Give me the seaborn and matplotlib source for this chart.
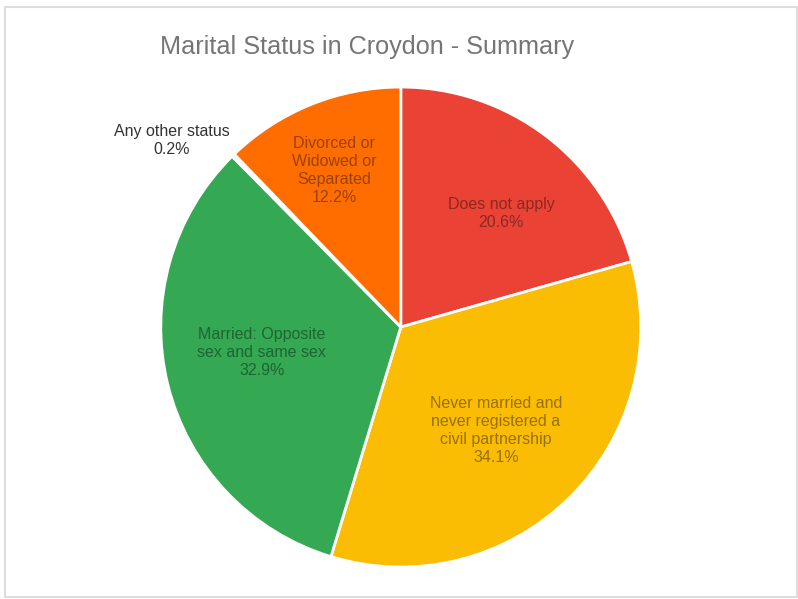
import matplotlib
matplotlib.use("Agg")
import matplotlib.pyplot as plt
import seaborn as sns
import numpy as np
from matplotlib.patches import Rectangle

sns.set_theme(style="white")
plt.rcParams['font.family'] = ['Liberation Sans', 'DejaVu Sans']

categories = ["Does not apply",
              "Never married and\nnever registered a\ncivil partnership",
              "Married: Opposite\nsex and same sex",
              "Any other status",
              "Divorced or\nWidowed or\nSeparated"]
values = [20.6, 34.1, 32.9, 0.2, 12.2]
colors = ["#EA4335", "#FBBC04", "#34A853", "#4285F4", "#FF6D01"]
# label placement (radius fraction, angle offset in degrees) - layout only
label_r = [0.63, 0.584, 0.589, 1.232, 0.71]
label_off = [-4.4, -1.8, -3.3, 6.5, 1.0]

fig = plt.figure(figsize=(7.98, 5.99), dpi=100)
fig.patches.append(Rectangle((5/798, 2/599), 792/798, 590/599, transform=fig.transFigure,
                             fill=False, edgecolor="#dddddd", linewidth=1.5))
ax = fig.add_axes([0.2015, 0.0534, 0.6015, 0.8013])
wedges, _ = ax.pie(values, colors=colors, startangle=90, counterclock=False,
                   wedgeprops=dict(edgecolor="white", linewidth=2))
ax.set_aspect("equal")
ax.set_xlim(-1.0, 1.0)
ax.set_ylim(-1.0, 1.0)
ax.axis("off")

total = sum(values)
for w, cat, v, r, off in zip(wedges, categories, values, label_r, label_off):
    mid = np.deg2rad((w.theta1 + w.theta2) / 2 + off)
    x, y = r * np.cos(mid), r * np.sin(mid)
    outside = r > 1
    ax.text(x, y, f"{cat}\n{v/total*100:.1f}%", ha="center", va="center",
            fontsize=11.5, color="#333333" if outside else "#000000",
            alpha=1.0 if outside else 0.4, linespacing=1.25, clip_on=False)

fig.text(367.5/798, 1 - 47/599, "Marital Status in Croydon - Summary", ha="center",
         va="center", fontsize=18.2, color="#757575")

fig.savefig("out.png", dpi=100)
